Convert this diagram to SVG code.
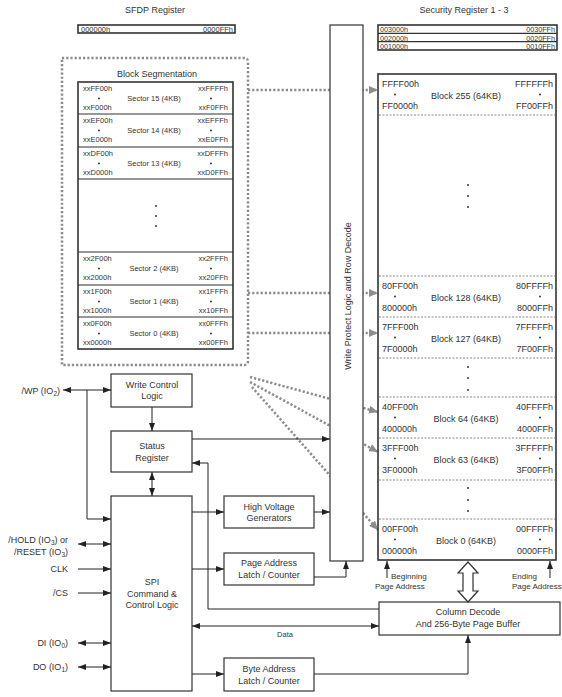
<svg xmlns="http://www.w3.org/2000/svg" width="562" height="697" viewBox="0 0 562 697">
<defs>
<style>
text{font-family:"Liberation Sans",Arial,sans-serif;fill:#333}
.t9{font-size:9px}
.t85{font-size:8.5px}
.t8{font-size:8px}
.t75{font-size:7.5px}
.t7{font-size:7.2px}
.box{fill:#fff;stroke:#333;stroke-width:1.2}
.thick{fill:#fff;stroke:#333;stroke-width:1.6}
.ln{fill:none;stroke:#222;stroke-width:1}
.dot{fill:none;stroke:#8c8c8c;stroke-width:2.5;stroke-dasharray:2.2 2}
.sep{stroke:#888;stroke-width:1;stroke-dasharray:2 1.5}
.sol{stroke:#333;stroke-width:1.2}
.m{text-anchor:middle}
.e{text-anchor:end}
.d{fill:#333}
</style>
<marker id="a" viewBox="0 0 8 6" refX="8" refY="3" markerWidth="8" markerHeight="6" markerUnits="userSpaceOnUse" orient="auto-start-reverse"><path d="M0,0L8,3L0,6z" fill="#222"/></marker>
<marker id="g" viewBox="0 0 9 8" refX="9" refY="4" markerWidth="9" markerHeight="8" markerUnits="userSpaceOnUse" orient="auto"><path d="M0,0L9,4L0,8z" fill="#8c8c8c"/></marker>
</defs>
<rect width="562" height="697" fill="#fff"/>

<g id="sfdp-register">
<text class="t9 m" x="155" y="13">SFDP Register</text>
<rect class="thick" x="78" y="25" width="157" height="8"/>
<text class="t75" x="81" y="32.2">000000h</text>
<text class="t75 e" x="233" y="32.2">0000FFh</text>
</g>

<g id="security-register">
<text class="t9 m" x="464" y="13">Security Register 1 - 3</text>
<rect class="thick" x="378" y="25" width="179" height="25"/>
<line class="sol" x1="378" y1="33.3" x2="557" y2="33.3"/>
<line class="sol" x1="378" y1="41.7" x2="557" y2="41.7"/>
<text class="t7" x="380" y="32.2">003000h</text>
<text class="t7 e" x="555" y="32.2">0030FFh</text>
<text class="t7" x="380" y="40.6">002000h</text>
<text class="t7 e" x="555" y="40.6">0020FFh</text>
<text class="t7" x="380" y="49">001000h</text>
<text class="t7 e" x="555" y="49">0010FFh</text>
</g>

<g id="block-segmentation">
<path class="dot" d="M62,58H244Q248,58 248,62V361Q248,365 244,365H62Z"/>
<text class="t9 m" x="157" y="77">Block Segmentation</text>
<rect class="thick" x="78" y="82" width="155" height="267"/>
<g class="sol">
<line x1="78" y1="114" x2="233" y2="114"/>
<line x1="78" y1="147" x2="233" y2="147"/>
<line x1="78" y1="179" x2="233" y2="179"/>
<line x1="78" y1="252" x2="233" y2="252"/>
<line x1="78" y1="285" x2="233" y2="285"/>
<line x1="78" y1="317" x2="233" y2="317"/>
</g>
<g class="t75">
<text x="83" y="91">xxFF00h</text><text x="83" y="110">xxF000h</text>
<text class="e" x="228" y="91">xxFFFFh</text><text class="e" x="228" y="110">xxF0FFh</text>
<text class="m" x="154" y="100.5">Sector 15 (4KB)</text>
<text x="83" y="123">xxEF00h</text><text x="83" y="142">xxE000h</text>
<text class="e" x="228" y="123">xxEFFFh</text><text class="e" x="228" y="142">xxE0FFh</text>
<text class="m" x="154" y="132.5">Sector 14 (4KB)</text>
<text x="83" y="156">xxDF00h</text><text x="83" y="175">xxD000h</text>
<text class="e" x="228" y="156">xxDFFFh</text><text class="e" x="228" y="175">xxD0FFh</text>
<text class="m" x="154" y="165.5">Sector 13 (4KB)</text>
<text x="83" y="261">xx2F00h</text><text x="83" y="280">xx2000h</text>
<text class="e" x="228" y="261">xx2FFFh</text><text class="e" x="228" y="280">xx20FFh</text>
<text class="m" x="154" y="270.5">Sector 2 (4KB)</text>
<text x="83" y="294">xx1F00h</text><text x="83" y="313">xx1000h</text>
<text class="e" x="228" y="294">xx1FFFh</text><text class="e" x="228" y="313">xx10FFh</text>
<text class="m" x="154" y="303.5">Sector 1 (4KB)</text>
<text x="83" y="326">xx0F00h</text><text x="83" y="345">xx0000h</text>
<text class="e" x="228" y="326">xx0FFFh</text><text class="e" x="228" y="345">xx00FFh</text>
<text class="m" x="154" y="335.5">Sector 0 (4KB)</text>
</g>
<g class="d">
<circle cx="99" cy="98.5" r="1"/><circle cx="211" cy="98.5" r="1"/>
<circle cx="99" cy="130.5" r="1"/><circle cx="211" cy="130.5" r="1"/>
<circle cx="99" cy="163.5" r="1"/><circle cx="211" cy="163.5" r="1"/>
<circle cx="99" cy="268.5" r="1"/><circle cx="211" cy="268.5" r="1"/>
<circle cx="99" cy="301.5" r="1"/><circle cx="211" cy="301.5" r="1"/>
<circle cx="99" cy="333.5" r="1"/><circle cx="211" cy="333.5" r="1"/>
<circle cx="156" cy="206" r="1"/><circle cx="156" cy="216" r="1"/><circle cx="156" cy="226" r="1"/>
</g>
</g>

<g id="dotted-connectors">
<path class="dot" d="M248,90H378" marker-end="url(#g)"/>
<path class="dot" d="M248,293H378" marker-end="url(#g)"/>
<path class="dot" d="M248,333H378" marker-end="url(#g)"/>
<path class="dot" d="M250,377L378,412" marker-end="url(#g)"/>
<path class="dot" d="M250,382L378,452" marker-end="url(#g)"/>
<path class="dot" d="M252,387L378,530" marker-end="url(#g)"/>
</g>

<g id="write-protect-row-decode">
<rect class="box" x="330" y="25" width="33" height="536"/>
<text class="t9 m" transform="translate(350.5,296) rotate(-90)">Write Protect Logic and Row Decode</text>
</g>

<g id="memory-array">
<rect class="thick" x="378" y="74" width="178" height="486"/>
<g class="sep">
<line x1="379" y1="115" x2="555" y2="115"/>
<line x1="379" y1="276" x2="555" y2="276"/>
<line x1="379" y1="317" x2="555" y2="317"/>
<line x1="379" y1="358" x2="555" y2="358"/>
<line x1="379" y1="397" x2="555" y2="397"/>
<line x1="379" y1="438" x2="555" y2="438"/>
<line x1="379" y1="480" x2="555" y2="480"/>
<line x1="379" y1="519" x2="555" y2="519"/>
</g>
<g class="t9">
<text x="382" y="87">FFFF00h</text><text x="382" y="109">FF0000h</text>
<text class="e" x="553" y="87">FFFFFFh</text><text class="e" x="553" y="109">FF00FFh</text>
<text class="m" x="466" y="99">Block 255 (64KB)</text>
<text x="382" y="289">80FF00h</text><text x="382" y="311">800000h</text>
<text class="e" x="553" y="289">80FFFFh</text><text class="e" x="553" y="311">8000FFh</text>
<text class="m" x="466" y="301">Block 128 (64KB)</text>
<text x="382" y="330">7FFF00h</text><text x="382" y="352">7F0000h</text>
<text class="e" x="553" y="330">7FFFFFh</text><text class="e" x="553" y="352">7F00FFh</text>
<text class="m" x="466" y="342">Block 127 (64KB)</text>
<text x="382" y="410">40FF00h</text><text x="382" y="432">400000h</text>
<text class="e" x="553" y="410">40FFFFh</text><text class="e" x="553" y="432">4000FFh</text>
<text class="m" x="466" y="422">Block 64 (64KB)</text>
<text x="382" y="451">3FFF00h</text><text x="382" y="473">3F0000h</text>
<text class="e" x="553" y="451">3FFFFFh</text><text class="e" x="553" y="473">3F00FFh</text>
<text class="m" x="466" y="463">Block 63 (64KB)</text>
<text x="382" y="532">00FF00h</text><text x="382" y="554">000000h</text>
<text class="e" x="553" y="532">00FFFFh</text><text class="e" x="553" y="554">0000FFh</text>
<text class="m" x="466" y="544">Block 0 (64KB)</text>
</g>
<g class="d">
<circle cx="395" cy="94.5" r="1"/><circle cx="540" cy="94.5" r="1"/>
<circle cx="395" cy="296.5" r="1"/><circle cx="540" cy="296.5" r="1"/>
<circle cx="395" cy="337.5" r="1"/><circle cx="540" cy="337.5" r="1"/>
<circle cx="395" cy="417.5" r="1"/><circle cx="540" cy="417.5" r="1"/>
<circle cx="395" cy="458.5" r="1"/><circle cx="540" cy="458.5" r="1"/>
<circle cx="395" cy="539.5" r="1"/><circle cx="540" cy="539.5" r="1"/>
<circle cx="468" cy="185" r="1"/><circle cx="468" cy="196" r="1"/><circle cx="468" cy="207" r="1"/>
<circle cx="468" cy="367" r="1"/><circle cx="468" cy="378" r="1"/><circle cx="468" cy="390" r="1"/>
<circle cx="468" cy="488" r="1"/><circle cx="468" cy="500" r="1"/><circle cx="468" cy="511" r="1"/>
</g>
<text class="t8" x="391" y="579">Beginning</text>
<text class="t8" x="375" y="589">Page Address</text>
<text class="t8" x="512" y="579">Ending</text>
<text class="t8" x="512" y="589">Page Address</text>
</g>

<g id="write-control-logic">
<rect class="box" x="111" y="374" width="81" height="33"/>
<text class="t9 m" x="152" y="388">Write Control</text>
<text class="t9 m" x="152" y="399">Logic</text>
</g>

<g id="status-register">
<rect class="box" x="111" y="431" width="81" height="41"/>
<text class="t9 m" x="152" y="449">Status</text>
<text class="t9 m" x="152" y="461">Register</text>
</g>

<g id="spi-command-control">
<rect class="box" x="111" y="496" width="81" height="195"/>
<text class="t9 m" x="152" y="585">SPI</text>
<text class="t9 m" x="152" y="597">Command &amp;</text>
<text class="t9 m" x="152" y="608">Control Logic</text>
</g>

<g id="high-voltage-generators">
<rect class="box" x="224" y="496" width="90" height="32"/>
<text class="t9 m" x="269" y="510">High Voltage</text>
<text class="t9 m" x="269" y="521">Generators</text>
</g>

<g id="page-address-latch">
<rect class="box" x="224" y="553" width="90" height="32"/>
<text class="t9 m" x="269" y="566">Page Address</text>
<text class="t9 m" x="269" y="578">Latch / Counter</text>
</g>

<g id="byte-address-latch">
<rect class="box" x="224" y="658" width="90" height="33"/>
<text class="t9 m" x="269" y="672">Byte Address</text>
<text class="t9 m" x="269" y="684">Latch / Counter</text>
</g>

<g id="column-decode">
<rect class="box" x="379" y="602" width="181" height="33"/>
<text class="t9 m" x="468" y="615">Column Decode</text>
<text class="t9 m" x="468" y="627">And 256-Byte Page Buffer</text>
</g>

<g id="signals">
<text class="t9 e" x="60" y="394">/WP (IO<tspan font-size="6.5" dy="2">2</tspan><tspan dy="-2">)</tspan></text>
<text class="t9 e" x="68" y="543">/HOLD (IO<tspan font-size="6.5" dy="2">3</tspan><tspan dy="-2">) or</tspan></text>
<text class="t9 e" x="68" y="555">/RESET (IO<tspan font-size="6.5" dy="2">3</tspan><tspan dy="-2">)</tspan></text>
<text class="t9 e" x="68" y="572">CLK</text>
<text class="t9 e" x="68" y="596">/CS</text>
<text class="t9 e" x="68" y="646">DI (IO<tspan font-size="6.5" dy="2">0</tspan><tspan dy="-2">)</tspan></text>
<text class="t9 e" x="68" y="670">DO (IO<tspan font-size="6.5" dy="2">1</tspan><tspan dy="-2">)</tspan></text>
</g>

<g id="connectors">
<path class="ln" d="M63,390H111" marker-start="url(#a)" marker-end="url(#a)"/>
<path class="ln" d="M87,390V519H111" marker-end="url(#a)"/>
<path class="ln" d="M78,544H111" marker-start="url(#a)" marker-end="url(#a)"/>
<path class="ln" d="M78,569H111" marker-end="url(#a)"/>
<path class="ln" d="M78,593H111" marker-end="url(#a)"/>
<path class="ln" d="M78,643H111" marker-start="url(#a)" marker-end="url(#a)"/>
<path class="ln" d="M78,667H111" marker-start="url(#a)" marker-end="url(#a)"/>
<path class="ln" d="M152,407V431" marker-end="url(#a)"/>
<path class="ln" d="M152,472V496" marker-start="url(#a)" marker-end="url(#a)"/>
<path class="ln" d="M192,439H330" marker-end="url(#a)"/>
<path class="ln" d="M379,609H208V463H192" marker-end="url(#a)"/>
<path class="ln" d="M192,512H224" marker-end="url(#a)"/>
<path class="ln" d="M314,512H330" marker-end="url(#a)"/>
<path class="ln" d="M192,569H224" marker-end="url(#a)"/>
<path class="ln" d="M314,577H346V561" marker-end="url(#a)"/>
<path class="ln" d="M192,626H379" marker-start="url(#a)" marker-end="url(#a)"/>
<text class="t75 m" x="285" y="637">Data</text>
<path class="ln" d="M192,674H224" marker-end="url(#a)"/>
<path class="ln" d="M314,674H468V635" marker-end="url(#a)"/>
<path class="ln" d="M387,578V561" marker-end="url(#a)"/>
<path class="ln" d="M550,578V561" marker-end="url(#a)"/>
<polygon points="468,562 478,573 473,573 473,591 478,591 468,602 458,591 463,591 463,573 458,573" fill="#fff" stroke="#333" stroke-width="1.2"/>
</g>
</svg>
